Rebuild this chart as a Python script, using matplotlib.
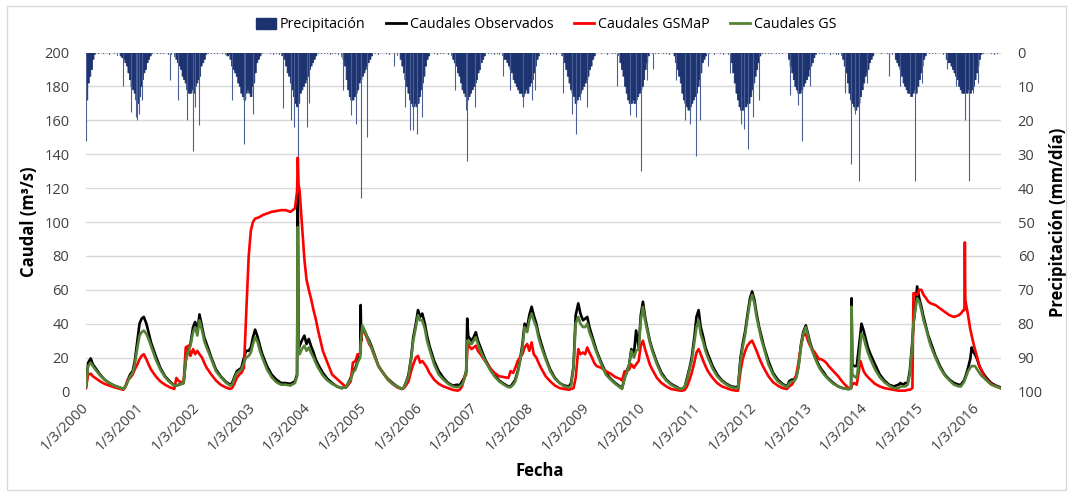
import pandas as pd
import matplotlib
matplotlib.use("Agg")
import matplotlib.pyplot as plt
from matplotlib.patches import Patch, Rectangle
from matplotlib.lines import Line2D

plt.rcParams["font.family"] = ["Open Sans", "DejaVu Sans"]

# ------------------------------------------------------------
# Caudales (m3/s), one line per hydrological year
# ------------------------------------------------------------
flow_dates = [
    "2000-03-01", "2000-03-15", "2000-04-01", "2000-04-15", "2000-05-01", "2000-06-01", "2000-07-01", "2000-08-01", "2000-09-01", "2000-10-01", "2000-11-01",
    "2000-11-15", "2000-12-01", "2000-12-15", "2001-01-01", "2001-01-15", "2001-02-01", "2001-02-15", "2001-03-01", "2001-03-15", "2001-04-01", "2001-04-15", "2001-05-01", "2001-06-01", "2001-07-01", "2001-08-01", "2001-09-01", "2001-10-01",
    "2001-10-15", "2001-11-01", "2001-12-01", "2001-12-15", "2002-01-01", "2002-01-15", "2002-02-01", "2002-02-15", "2002-03-01", "2002-03-15", "2002-04-01", "2002-04-15", "2002-05-01", "2002-06-01", "2002-07-01", "2002-08-01", "2002-09-01", "2002-10-01",
    "2002-10-15", "2002-11-01", "2002-11-15", "2002-12-01", "2002-12-15", "2003-01-01", "2003-01-15", "2003-02-01", "2003-02-15", "2003-03-01", "2003-03-15", "2003-04-01", "2003-04-15", "2003-05-01", "2003-06-01", "2003-07-01", "2003-08-01", "2003-09-01", "2003-10-01", "2003-11-01", "2003-12-01", "2003-12-15", "2003-12-20", "2003-12-25", "2004-01-01",
    "2004-01-15", "2004-02-01", "2004-02-15", "2004-03-01", "2004-03-15", "2004-04-01", "2004-04-15", "2004-05-01", "2004-06-01", "2004-07-01", "2004-08-01", "2004-09-01", "2004-10-01", "2004-11-01", "2004-11-15",
    "2004-12-01", "2004-12-15", "2005-01-01", "2005-01-15", "2005-02-01", "2005-02-04", "2005-02-08", "2005-02-15", "2005-03-01", "2005-03-15", "2005-04-01", "2005-04-15", "2005-05-01", "2005-06-01", "2005-07-01", "2005-08-01", "2005-09-01", "2005-10-01", "2005-11-01",
    "2005-11-15", "2005-12-01", "2005-12-15", "2006-01-01", "2006-01-15", "2006-02-01", "2006-02-15", "2006-03-01", "2006-03-15", "2006-04-01", "2006-04-15", "2006-05-01", "2006-06-01", "2006-07-01", "2006-08-01", "2006-09-01", "2006-10-01", "2006-11-01",
    "2006-11-15", "2006-12-01", "2006-12-15", "2006-12-28", "2007-01-04", "2007-01-10", "2007-01-15", "2007-02-01", "2007-02-15", "2007-03-01", "2007-03-15", "2007-04-01", "2007-05-01", "2007-06-01", "2007-07-01", "2007-08-01", "2007-09-01", "2007-10-01", "2007-10-15", "2007-11-01",
    "2007-11-15", "2007-12-01", "2007-12-15", "2008-01-01", "2008-01-15", "2008-02-01", "2008-02-15", "2008-03-01", "2008-03-15", "2008-04-01", "2008-04-15", "2008-05-01", "2008-06-01", "2008-07-01", "2008-08-01", "2008-09-01", "2008-10-01", "2008-11-01",
    "2008-11-15", "2008-12-01", "2008-12-15", "2009-01-01", "2009-01-15", "2009-02-01", "2009-02-15", "2009-03-01", "2009-03-15", "2009-04-01", "2009-04-15", "2009-05-01", "2009-06-01", "2009-07-01", "2009-08-01", "2009-09-01", "2009-10-01", "2009-10-15",
    "2009-11-01", "2009-11-15", "2009-12-01", "2009-12-15", "2010-01-01", "2010-01-15", "2010-02-01", "2010-02-15", "2010-03-01", "2010-03-15", "2010-04-01", "2010-04-15", "2010-05-01", "2010-06-01", "2010-07-01", "2010-08-01", "2010-09-01", "2010-10-01", "2010-11-01",
    "2010-11-15", "2010-12-01", "2010-12-15", "2011-01-01", "2011-01-15", "2011-02-01", "2011-02-15", "2011-03-01", "2011-03-15", "2011-04-01", "2011-04-15", "2011-05-01", "2011-06-01", "2011-07-01", "2011-08-01", "2011-09-01", "2011-10-01", "2011-11-01", "2011-11-15",
    "2011-12-01", "2011-12-15", "2012-01-01", "2012-01-15", "2012-02-01", "2012-02-15", "2012-03-01", "2012-03-15", "2012-04-01", "2012-04-15", "2012-05-01", "2012-06-01", "2012-07-01", "2012-08-01", "2012-09-01", "2012-10-01",
    "2012-10-15", "2012-11-01", "2012-11-15", "2012-12-01", "2012-12-15", "2013-01-01", "2013-01-15", "2013-02-01", "2013-02-15", "2013-03-01", "2013-03-15", "2013-04-01", "2013-04-15", "2013-05-01", "2013-05-15", "2013-06-01", "2013-06-15", "2013-07-01", "2013-08-01", "2013-09-01", "2013-10-01", "2013-11-01",
    "2013-11-15", "2013-11-25", "2013-11-28", "2013-12-03", "2013-12-15", "2014-01-01", "2014-01-15", "2014-01-25", "2014-02-01", "2014-02-15", "2014-03-01", "2014-03-15", "2014-04-01", "2014-05-01", "2014-06-01", "2014-07-01", "2014-08-01", "2014-09-01", "2014-10-01", "2014-10-15", "2014-11-01", "2014-11-15", "2014-12-01",
    "2014-12-15", "2015-01-01", "2015-01-08", "2015-01-15", "2015-02-01", "2015-02-15", "2015-03-01", "2015-03-15", "2015-04-01", "2015-04-15", "2015-05-01", "2015-06-01", "2015-07-01", "2015-08-01", "2015-09-01", "2015-10-01", "2015-11-01", "2015-11-15", "2015-12-01", "2015-12-08", "2015-12-11", "2015-12-14", "2016-01-01", "2016-01-15", "2016-01-25", "2016-02-01", "2016-02-15", "2016-03-01", "2016-03-15", "2016-04-01", "2016-04-15", "2016-05-01", "2016-06-01", "2016-07-01", "2016-07-31",
]

q_obs = [
    3, 17, 19.5, 16, 14, 10, 7, 5, 3.5, 2.5, 1.5,
    3, 7, 10, 12, 18, 30, 40, 43, 44, 40, 35, 29, 21, 14, 9, 6, 3.5,
    3.5, 4, 5, 18, 25, 28, 38, 41, 35, 45.5, 38, 32, 28, 20, 13, 9, 6, 4,
    5, 9, 12, 13, 14, 20, 24, 24, 26, 32, 36.5, 32, 27, 22, 15, 10, 7, 5, 5, 4.5, 6, 10, 120, 25, 27,
    30, 33, 28, 31, 27, 23, 19, 16, 11, 7.5, 5, 3, 2, 2.5, 5,
    8, 12, 14, 18, 22, 51, 30, 38, 36, 33, 30, 27, 23, 15, 11, 7.5, 5, 3, 1.5,
    2.5, 6, 10, 20, 32, 40, 48, 44, 46, 40, 33, 27, 18, 12, 8, 5, 3.5, 4,
    3.5, 6, 8, 12, 43, 33, 32, 30, 32, 35, 30, 26, 19, 14, 10, 6.5, 4.5, 3, 3, 5,
    7, 12, 18, 28, 40, 38, 45, 50, 45, 40, 34, 29, 20, 13, 8, 5, 3.5, 3,
    5, 15, 45, 52, 46, 42, 43, 44, 38, 33, 29, 24, 17, 11, 7.5, 5, 3, 2,
    8, 12, 16, 25, 22, 36, 26, 45, 53, 44, 36, 30, 25, 17, 11, 7, 4.5, 3, 1.5,
    1.5, 3, 8, 14, 20, 32, 44, 48, 38, 32, 26, 22, 15, 10, 6.5, 4.5, 3, 2.5, 3,
    20, 28, 36, 45, 55, 59, 54, 46, 38, 33, 27, 18, 11, 7, 4.5, 3,
    6, 7, 7, 9, 15, 28, 35, 39, 34, 29, 25, 21, 18, 15, 13, 11, 9, 7.5, 5, 3, 2, 1.5,
    1.5, 2, 55, 16, 15, 15, 26, 34, 40, 36, 31, 26, 22, 16, 10, 6.5, 4, 3, 4, 5, 4, 5, 5,
    12, 30, 40, 45, 62, 55, 50, 44, 38, 33, 29, 21, 15, 10, 7, 5, 4, 4, 6, 7, 8, 8.5, 14, 19, 26, 24, 22, 19, 15, 12, 10, 8, 5, 3.5, 2.5,
]

q_gsmap = [
    2, 10, 10.5, 9, 8, 6, 4.5, 3.5, 2.5, 1.8, 1,
    3, 7, 8, 10, 13, 16, 19, 21, 22, 19, 16, 13, 9, 6, 4, 2.5, 1.5,
    8, 6, 5, 26, 27, 21, 25, 22, 24, 22, 20, 17, 14, 10, 6.5, 4, 2.5, 1.5,
    2, 5, 8, 10, 11, 14, 45, 80, 95, 100, 102, 102.5, 103, 104, 105, 106, 106.5, 107, 107, 106, 108, 118, 138, 122, 118,
    100, 78, 66, 60, 55, 48, 43, 36, 24, 17, 10, 7.5, 5, 2.5, 4,
    6, 17, 18, 22, 22, 25, 32, 36, 35, 32, 28, 26, 22, 15, 11, 7, 4.5, 2.5, 1.5,
    2, 4, 6, 12, 16, 20, 21, 17, 18, 16, 14, 11, 7, 4.5, 3, 2, 1, 0.5,
    1, 3, 8, 10, 24, 28, 27, 25, 26, 27, 24, 22, 18, 14, 11, 9, 8.5, 8, 12, 11,
    14, 18, 20, 22, 26, 28, 24, 29, 22, 20, 17, 14, 9, 6, 3.5, 2, 1.5, 1,
    1.5, 2, 8, 25, 22, 23, 22, 26, 23, 20, 17, 15, 14, 12, 10.5, 8.5, 7.5, 6.5,
    12, 12, 13, 16, 14, 16, 18, 27, 30, 25, 20, 16, 13, 8, 5, 3, 1.5, 1, 0.5,
    0.5, 1, 3, 7, 11, 17, 23, 25, 22, 18, 15, 12, 8, 5, 3, 2, 1, 0.5, 0.5,
    12, 19, 24, 27, 29, 30, 27, 24, 20, 17, 14, 9, 5.5, 3.5, 2, 1.5,
    3, 4, 6, 10, 17, 27, 33, 34, 30, 27, 25, 23, 21, 19, 19, 18, 17, 15, 12, 9, 5.5, 2.5,
    2, 2, 4, 4, 5, 4, 12, 18, 16, 12, 10, 8.5, 7, 4.5, 3, 2, 1.5, 1, 0.5, 0.5, 0.5, 0.5, 1,
    1, 2, 58, 58, 57, 60, 60, 57, 55, 53, 52, 51, 49, 47, 45, 44, 45, 46, 48, 48, 88, 54, 45, 37, 33, 30, 25, 20, 15, 12, 9, 7, 4.5, 3, 2,
]

q_gs = [
    3, 15, 17, 15, 13, 9.5, 7, 5, 3.5, 2.5, 1.5,
    3, 6, 9, 11, 16, 26, 33, 35, 36, 34, 31, 27, 19, 13, 8.5, 5.5, 3.5,
    3.5, 4, 5, 18, 24, 27, 35, 38, 33, 42, 36, 30, 26, 19, 12, 8.5, 5.5, 3.5,
    4, 8, 11, 12, 13, 17, 20, 21, 23, 28, 32, 29, 24, 20, 13, 8.5, 5.5, 4, 4, 3.5, 5, 9, 97, 22, 22,
    25, 27, 24, 26, 23, 20, 17, 14, 9.5, 6.5, 4.5, 3, 2, 2.5, 5,
    7, 11, 13, 17, 20, 28, 32, 39, 36, 33, 29, 26, 22, 15, 11, 7, 4.5, 3, 1.5,
    2.5, 6, 9, 19, 30, 38, 45, 42, 42, 37, 30, 25, 16, 10, 7, 4.5, 3, 2.5,
    3, 4, 7, 12, 30, 30, 29, 28, 30, 32, 28, 24, 18, 13, 9, 6, 4, 2.5, 2.5, 4,
    6, 11, 17, 26, 38, 35, 42, 46, 42, 38, 32, 27, 19, 12, 7.5, 5, 3, 2.5,
    3.5, 14, 40, 44, 40, 38, 38, 40, 35, 31, 27, 23, 16, 10, 7, 4.5, 2.5, 1.5,
    8, 11, 16, 24, 20, 24, 25, 42, 50, 42, 35, 29, 24, 16, 10, 6.5, 4, 2.5, 1.5,
    1.5, 3, 7, 13, 18, 29, 38, 42, 34, 29, 24, 20, 13.5, 9, 6, 4, 2.5, 2, 2,
    18, 26, 34, 43, 53, 57, 52, 44, 37, 31, 26, 16, 10, 6, 4, 2.5,
    5, 6, 6, 8, 14, 27, 34, 38, 33, 28, 24, 20, 17, 14, 12, 10, 8.5, 7, 4.5, 3, 2, 1.5,
    1.5, 2, 50, 10, 9, 8, 18, 28, 34, 32, 27, 23, 19, 13, 8.5, 5.5, 3.5, 2, 2, 3, 3, 3, 4,
    10, 28, 40, 45, 55, 53, 48, 42, 37, 32, 27, 20, 14, 9.5, 6.5, 4, 3, 3, 5, 6, 7, 7.5, 12, 14, 15, 15, 15, 13, 11, 9, 8, 6.5, 4, 3, 2,
]

# ------------------------------------------------------------
# Precipitación (mm/día): wet-season body (one value every ~10 days),
# the light dry-season rain, and the isolated daily peaks
# ------------------------------------------------------------
wet_starts = [
    "2000-03-01", "2000-10-11", "2001-10-11", "2002-09-11", "2003-09-11", "2004-10-11",
    "2005-10-21", "2006-10-01", "2007-09-01", "2008-09-21", "2009-10-01", "2010-09-21",
    "2011-10-01", "2012-10-11", "2013-10-01", "2014-09-11", "2015-08-11",
]
wet_mm = [
    [14, 9, 7, 5, 2, 0.5],
    [1, 1.5, 2, 3, 4, 6, 8, 10, 11, 12, 14, 15, 13, 10, 8, 6, 5, 3, 2, 1],
    [2, 3, 4, 5, 7, 8, 9, 11, 12, 12, 11, 12, 10, 9, 8, 7, 4, 3, 2, 0.5],
    [1, 0.5, 2, 4, 5, 6, 7, 9, 10, 12, 13, 14, 12, 11, 12, 13, 10, 9, 6, 3, 2, 1],
    [1, 2, 4, 6, 7, 9, 11, 13, 15, 16, 15, 12, 11, 10, 9, 8, 7, 5, 4, 3, 2, 1],
    [2, 4, 8, 11, 13, 14, 14, 13, 12, 11, 9, 8, 7, 6, 5, 4, 3, 2, 1],
    [2, 4, 6, 8, 10, 12, 14, 15, 16, 15, 16, 15, 13, 11, 9, 7, 4, 2, 1],
    [2, 3, 4, 6, 7, 9, 11, 12, 13, 14, 13, 12, 11, 10, 9, 8, 6, 5, 3, 2, 1],
    [2, 2, 3, 4, 5, 6, 8, 9, 10, 11, 12, 12, 13, 12, 11, 12, 10, 9, 8, 6, 4, 2, 1],
    [1, 3, 5, 7, 9, 11, 12, 13, 15, 14, 13, 12, 11, 10, 9, 8, 7, 5, 4, 2, 1],
    [3, 5, 7, 10, 12, 14, 15, 15, 14, 15, 14, 13, 12, 11, 10, 8, 5, 3, 1],
    [1, 3, 5, 7, 9, 12, 14, 15, 16, 17, 16, 15, 14, 13, 12, 10, 8, 6, 3, 2, 1],
    [3, 6, 9, 12, 14, 16, 17, 17, 16, 16, 15, 15, 13, 11, 9, 7, 5, 3, 1],
    [2, 4, 6, 8, 10, 11, 12, 12, 11, 10, 9, 8, 7, 5, 4, 3, 1.5, 0.5],
    [2, 4, 6, 9, 12, 14, 15, 16, 17, 16, 15, 13, 11, 9, 7, 6, 5, 3, 2, 1],
    [2, 3, 4, 5, 7, 9, 10, 11, 12, 12, 13, 12, 11, 12, 10, 8, 6, 4, 2, 1],
    [2, 3, 3, 4, 5, 6, 7, 8, 10, 11, 12, 12, 11, 12, 11, 12, 11, 10, 8, 6, 4, 2, 0.5],
]

dry_starts = [
    "2000-05-01", "2001-05-01", "2002-05-01", "2003-04-21", "2004-04-21", "2005-04-21",
    "2006-05-01", "2007-05-01", "2008-04-21", "2009-04-21", "2010-04-11", "2011-04-21",
    "2012-04-11", "2013-04-11", "2014-04-21", "2015-04-01", "2016-04-01",
]
dry_mm = [
    [0.5, 0, 0.4, 0.3, 0, 0.5, 0.3, 0, 0.4, 0.6, 0.3, 0, 0.5, 0.8, 1.0, 0.6],
    [0.4, 0.3, 0, 0.5, 0.3, 0, 0.4, 0.3, 0.5, 0, 0.4, 0.6, 0.5, 0.8, 0.5, 1.2],
    [0.6, 0.3, 0, 0.4, 0.3, 0.5, 0, 0.4, 0.3, 0.6, 0.5, 0.8, 0.7],
    [0.5, 0.4, 0.3, 0, 0.5, 0.3, 0.4, 0, 0.6, 0.3, 0.5, 0.8, 0.6, 1.0],
    [0.6, 0.4, 0, 0.5, 0.3, 0.4, 0, 0.5, 0.3, 0.6, 0.4, 0.3, 0.5, 0.7, 0.6, 0.8, 1.2],
    [0.5, 0.4, 0.3, 0, 0.6, 0.3, 0.4, 0, 0.5, 0.4, 0.3, 0.6, 0.5, 0.4, 0.8, 0.6, 0.9, 1.0],
    [0.4, 0.5, 0, 0.3, 0.4, 0.6, 0, 0.5, 0.3, 0.4, 0.6, 0.5, 0.8, 0.6, 1.0],
    [0.5, 0.3, 0.4, 0, 0.5, 0.3, 0.6, 0.4, 0.5, 0.8, 0.6, 1.0],
    [0.6, 0.4, 0.3, 0.5, 0, 0.4, 0.3, 0.6, 0.4, 0.5, 0.3, 0.7, 0.6, 0.8, 1.0],
    [0.5, 0.4, 0, 0.3, 0.5, 0.4, 0, 0.3, 0.6, 0.4, 0.5, 0.3, 0.6, 0.5, 0.8, 1.0],
    [0.6, 0.5, 0.4, 0, 0.3, 0.5, 0.4, 0, 0.6, 0.3, 0.5, 0.4, 0.7, 0.6, 0.8, 0.9],
    [0.5, 0.4, 0.3, 0, 0.5, 0.6, 0.3, 0, 0.4, 0.5, 0.3, 0.6, 0.5, 0.7, 0.8, 1.0],
    [0.6, 0.5, 0.4, 0.3, 0, 0.5, 0.4, 0.3, 0, 0.6, 0.4, 0.5, 0.3, 0.6, 0.5, 0.8, 0.7, 1.0],
    [0.6, 0.5, 0.4, 0, 0.3, 0.5, 0.4, 0, 0.3, 0.6, 0.4, 0.5, 0.3, 0.7, 0.6, 0.8, 1.0],
    [0.5, 0.4, 0.3, 0, 0.5, 0.4, 0.3, 0, 0.6, 0.4, 0.5, 0.7, 0.6, 1.0],
    [0.6, 0.5, 0.4, 0, 0.3, 0.5, 0.4, 0.3, 0, 0.5, 0.6, 0.8, 1.0],
    [0.6, 0.5, 0.4, 0.3, 0, 0.5, 0.4, 0.3, 0.6, 0.5, 0.4, 1.5],
]

peak_dates = [
    "2000-03-03", "2000-11-01", "2000-12-20", "2001-01-20", "2001-01-28", "2001-02-10", "2001-03-05",
    "2001-08-31", "2001-10-27", "2001-12-21", "2002-02-02", "2002-02-15", "2002-03-13",
    "2002-10-12", "2002-12-31", "2003-01-05", "2003-03-02",
    "2003-09-13", "2003-11-05", "2003-11-28", "2003-12-21", "2004-02-15", "2004-03-05",
    "2004-10-13", "2004-11-30", "2005-01-04", "2005-02-04", "2005-03-19",
    "2005-09-08", "2005-11-21", "2005-12-24", "2006-01-15", "2006-02-06", "2006-03-11",
    "2006-10-15", "2006-12-30", "2007-01-04", "2007-02-23", "2007-03-28",
    "2007-08-28", "2007-10-10", "2008-01-06", "2008-03-01", "2008-03-20",
    "2008-09-25", "2008-11-18", "2008-12-15", "2009-01-12", "2009-03-01",
    "2009-09-10", "2009-12-06", "2010-01-14", "2010-02-16", "2010-03-25", "2010-05-03",
    "2010-10-07", "2010-12-01", "2011-01-03", "2011-02-09", "2011-03-09", "2011-05-03",
    "2011-09-22", "2011-12-01", "2011-12-25", "2012-01-20", "2012-02-22", "2012-04-02",
    "2012-10-21", "2012-12-14", "2013-01-07", "2013-02-28",
    "2013-10-15", "2013-11-26", "2013-12-20", "2014-01-15", "2014-03-07",
    "2014-08-01", "2014-10-11", "2014-12-15", "2015-01-17", "2015-03-02",
    "2015-08-15", "2015-10-17", "2015-12-11", "2016-01-08", "2016-02-03", "2016-03-08",
]
peak_mm = [
    26, 10, 17.5, 19, 20, 18, 14,
    8, 14, 20, 29, 16, 21.5,
    14, 27, 14, 18,
    16.5, 20, 22, 30.5, 22, 15,
    11, 18.5, 21, 43, 25,
    4, 16, 23, 23, 24, 19,
    11, 17, 32, 16, 4,
    7, 11, 16, 14, 11,
    12, 18, 24, 14, 16,
    10, 18.5, 19, 35, 8, 5,
    8, 20, 21, 30.5, 20, 4,
    6, 21, 22.5, 28.5, 19, 14,
    12.5, 15.5, 26, 10,
    12, 33, 18, 38, 9,
    7, 10, 12, 38, 9,
    5, 10, 20, 38, 12, 9,
]

tick_years = list(range(2000, 2017))
tick_labels = [f"1/3/{y}" for y in tick_years]

series_names = ["Precipitación", "Caudales Observados", "Caudales GSMaP", "Caudales GS"]
series_colors = ["#1c3370", "#000000", "#ff0000", "#548235"]


def dekads(start, n):
    d = pd.Timestamp(start)
    out = []
    for _ in range(n):
        out.append(d)
        if d.day == 1:
            d = d.replace(day=11)
        elif d.day == 11:
            d = d.replace(day=21)
        else:
            d = d + pd.offsets.MonthBegin(1)
    return out


def expand(starts, blocks):
    xs, ys = [], []
    for start, vals in zip(starts, blocks):
        xs += dekads(start, len(vals))
        ys += vals
    return xs, ys


wet_dates, wet_vals = expand(wet_starts, wet_mm)
dry_dates, dry_vals = expand(dry_starts, dry_mm)
dates = pd.to_datetime(flow_dates)

# ------------------------------------------------------------
# Figure
# ------------------------------------------------------------
W, H = 1072, 496
fig = plt.figure(figsize=(W / 100, H / 100), dpi=100)
fig.patches.append(Rectangle((7 / W, 6 / H), (1066 - 7) / W, (490 - 6) / H,
                             transform=fig.transFigure, fill=False,
                             edgecolor="#d9d9d9", lw=1))

x0, x1, y0, y1 = 86, 1001, 52.5, 391.5
ax = fig.add_axes([x0 / W, 1 - y1 / H, (x1 - x0) / W, (y1 - y0) / H])
ax2 = ax.twinx()
ax.set_zorder(ax2.get_zorder() + 1)
ax.patch.set_visible(False)

# precipitation (secondary axis, inverted)
navy = series_colors[0]
ax2.bar(wet_dates, wet_vals, width=11.5, align="edge", color=navy,
        edgecolor=navy, lw=0.6, snap=False)
ax2.bar(dry_dates, dry_vals, width=3, align="edge", color="#5a6d9c", lw=0)
ax2.vlines(pd.to_datetime(peak_dates), 0, peak_mm, color="#4a5f95", lw=0.8)
ax2.set_ylim(100, 0)
ax2.set_yticks(range(0, 101, 10))
ax2.yaxis.grid(True, color="#d9d9d9", lw=1)
ax2.set_axisbelow(True)

# flows
ax.plot(dates, q_obs, color=series_colors[1], lw=1.9)
ax.plot(dates, q_gsmap, color=series_colors[2], lw=1.9)
ax.plot(dates, q_gs, color=series_colors[3], lw=1.9)
ax.set_ylim(0, 200)
ax.set_yticks(range(0, 201, 20))

ax.set_xlim(pd.Timestamp("2000-03-01"), pd.Timestamp("2016-08-04"))
ax.set_xticks(pd.to_datetime([f"{y}-03-01" for y in tick_years]))
ax.set_xticklabels(tick_labels, rotation=45, ha="right", va="center",
                   rotation_mode="anchor")

for a in (ax, ax2):
    for s in a.spines.values():
        s.set_visible(False)
    a.tick_params(length=0, labelsize=10.5, colors="#404040")
ax.tick_params(axis="y", pad=12)
ax.tick_params(axis="x", pad=10)
ax2.tick_params(axis="y", pad=12)

ax.set_ylabel("Caudal (m³/s)", fontsize=12, fontweight="bold")
ax.yaxis.set_label_coords((38 - x0) / (x1 - x0), 0.5)
ax2.set_ylabel("Precipitación (mm/día)", fontsize=12, fontweight="bold")
ax2.yaxis.set_label_coords((1049 - x0) / (x1 - x0), 0.5)
ax.set_xlabel("Fecha", fontsize=12, fontweight="bold")
ax.xaxis.set_label_coords((540 - x0) / (x1 - x0), (y1 - 462) / (y1 - y0))

handles = [Patch(color=navy)] + [Line2D([], [], color=c, lw=2) for c in series_colors[1:]]
fig.legend(handles, series_names, loc="center", bbox_to_anchor=(546 / W, 1 - 25 / H),
           ncol=4, frameon=False, fontsize=10.3, handlelength=1.4, handletextpad=0.3,
           columnspacing=1.4)

fig.savefig("out.png", dpi=100)
